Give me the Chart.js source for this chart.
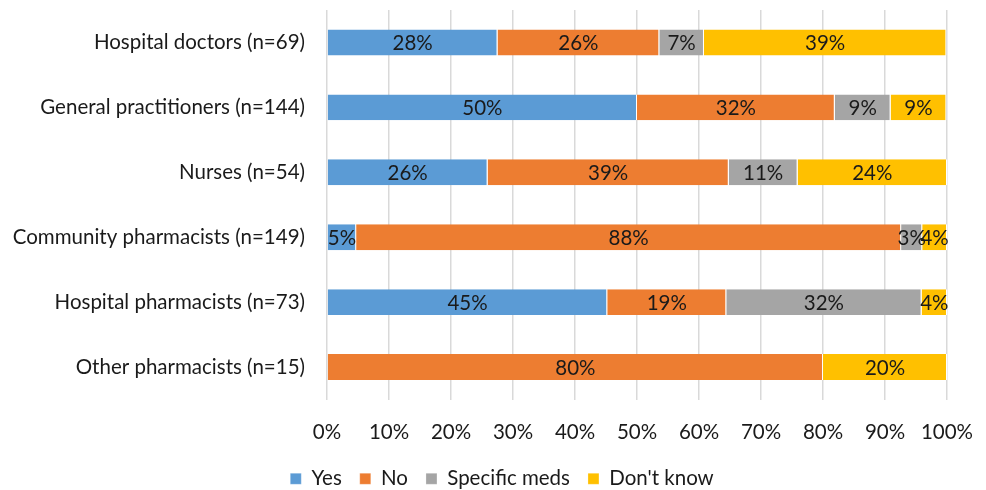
<!DOCTYPE html>
<html>
<head>
<meta charset="utf-8">
<script src="https://cdn.jsdelivr.net/npm/chart.js@4/dist/chart.umd.min.js"></script>
<style>
  html, body { margin: 0; padding: 0; background: #fff; }
  #wrap { width: 986px; height: 490px; }
</style>
</head>
<body>
<div id="wrap"><canvas id="chart"></canvas></div>
<script>
// Categories, top to bottom
const groups = [
    'Hospital doctors (n=69)',
    'General practitioners (n=144)',
    'Nurses (n=54)',
    'Community pharmacists (n=149)',
    'Hospital pharmacists (n=73)',
    'Other pharmacists (n=15)'
];

// Share of answers in each group (%)
const yesValues = [27.5, 50.0, 25.9, 4.7, 45.2, 0];
const noValues = [26.1, 31.9, 38.9, 87.9, 19.2, 80.0];
const specificValues = [7.2, 9.0, 11.1, 3.4, 31.5, 0];
const dontKnowValues = [39.1, 9.0, 24.1, 4.0, 4.1, 20.0];

const xTicks = [0, 10, 20, 30, 40, 50, 60, 70, 80, 90, 100];

const FONT = 'Lato, "Liberation Sans", sans-serif';
const FONT_SIZE = 20.5;

// draws the % in the middle of each segment
const barLabels = {
    id: 'barLabels',
    afterDatasetsDraw(chart) {
        const ctx = chart.ctx;
        ctx.save();
        ctx.font = FONT_SIZE + 'px ' + FONT;
        ctx.fillStyle = '#1a1a1a';
        ctx.textAlign = 'center';
        ctx.textBaseline = 'middle';
        chart.data.datasets.forEach((ds, i) => {
            const meta = chart.getDatasetMeta(i);
            meta.data.forEach((bar, j) => {
                const v = ds.data[j];
                if (!v) return;
                ctx.fillText(Math.round(v) + '%', (bar.x + bar.base) / 2, bar.y + 1);
            });
        });
        ctx.restore();
    }
};

new Chart(document.getElementById('chart'), {
    type: 'bar',
    data: {
        labels: groups,
        datasets: [
            { label: 'Yes', data: yesValues, backgroundColor: '#5B9BD5' },
            { label: 'No', data: noValues, backgroundColor: '#ED7D31' },
            { label: 'Specific meds', data: specificValues, backgroundColor: '#A5A5A5' },
            { label: "Don't know", data: dontKnowValues, backgroundColor: '#FFC000' }
        ].map(d => Object.assign(d, {
            borderColor: '#ffffff',
            borderWidth: { left: 0, right: 1, top: 0, bottom: 0 },
            borderSkipped: false,
            barPercentage: 0.8,
            categoryPercentage: 0.5
        }))
    },
    options: {
        indexAxis: 'y',
        responsive: true,
        maintainAspectRatio: false,
        animation: false,
        // negative right padding pushes the centred legend a bit to the right
        layout: { padding: { left: 0, right: -18, top: 10, bottom: -9 } },
        scales: {
            x: {
                stacked: true,
                min: 0,
                max: 100,
                afterBuildTicks: axis => { axis.ticks = xTicks.map(v => ({ value: v })); },
                grid: { color: '#D9D9D9', lineWidth: 1.5, drawTicks: false },
                border: { display: false },
                ticks: {
                    padding: 21,
                    color: '#1a1a1a',
                    font: { family: FONT, size: FONT_SIZE },
                    callback: v => v + '%'
                },
                afterFit: axis => {
                    axis.height = 51;
                    axis.paddingLeft = 0;
                    axis.paddingRight = 39;
                }
            },
            y: {
                stacked: true,
                grid: { display: false, drawTicks: false },
                border: { display: false },
                ticks: {
                    padding: 22,
                    color: '#1a1a1a',
                    font: { family: FONT, size: FONT_SIZE }
                },
                afterFit: axis => {
                    axis.width = 327;
                    axis.paddingTop = 0;
                    axis.paddingBottom = 0;
                }
            }
        },
        plugins: {
            legend: {
                position: 'bottom',
                labels: {
                    boxWidth: 11,
                    boxHeight: 11,
                    padding: 18,
                    color: '#1a1a1a',
                    font: { family: FONT, size: FONT_SIZE }
                }
            },
            tooltip: { enabled: false }
        }
    },
    plugins: [barLabels]
});
</script>
</body>
</html>
